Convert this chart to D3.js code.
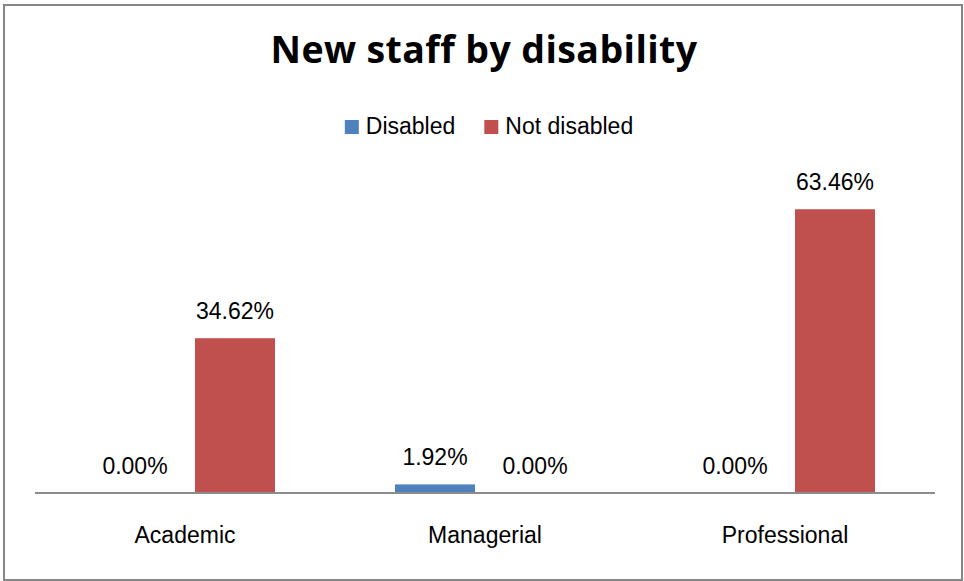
<!DOCTYPE html>
<html>
<head>
<meta charset="utf-8">
<script src="https://cdn.jsdelivr.net/npm/d3@7"></script>
<style>
  html, body { margin: 0; padding: 0; background: #fff; }
  svg { display: block; }
</style>
</head>
<body>
<svg id="chart" width="964" height="581"></svg>
<script>
// Share of new staff by staff group and disability status (%)
const categories = ["Academic", "Managerial", "Professional"];
const seriesNames = ["Disabled", "Not disabled"];
const disabled = [0.00, 1.92, 0.00];
const notDisabled = [34.62, 0.00, 63.46];
const seriesColors = ["#4F81BD", "#C0504D"];
const titleText = "New staff by disability";

const seriesValues = [disabled, notDisabled];
const rows = categories.map((c, i) => ({
  category: c,
  values: seriesNames.map((s, j) => ({ series: s, index: j, value: seriesValues[j][i] }))
}));

const svg = d3.select("#chart");
const font = "'Liberation Sans', Arial, sans-serif";

// chart frame
svg.append("rect")
  .attr("x", 4).attr("y", 5)
  .attr("width", 958).attr("height", 575)
  .attr("fill", "#fff")
  .attr("stroke", "#878787")
  .attr("stroke-width", 2);

// title
svg.append("text")
  .attr("x", 484).attr("y", 63)
  .attr("text-anchor", "middle")
  .attr("font-family", "'Open Sans', sans-serif")
  .attr("font-weight", "bold")
  .attr("font-size", 37.5)
  .attr("letter-spacing", 0.4)
  .attr("fill", "#000")
  .text(titleText);

// scales
const plot = { left: 35, right: 935, top: 180, bottom: 493 };
const x0 = d3.scaleBand()
  .domain(categories)
  .range([plot.left, plot.right])
  .paddingInner(0.4)
  .paddingOuter(0.2);
const x1 = d3.scaleBand()
  .domain(seriesNames)
  .range([0, x0.bandwidth()])
  .paddingInner(0.2);
const y = d3.scaleLinear()
  .domain([0, 70])
  .range([plot.bottom, plot.top]);
const color = d3.scaleOrdinal().domain(seriesNames).range(seriesColors);

// bars
const groups = svg.append("g").selectAll("g")
  .data(rows)
  .join("g")
  .attr("transform", d => `translate(${x0(d.category)},0)`);

groups.selectAll("rect")
  .data(d => d.values)
  .join("rect")
  .attr("x", d => x1(d.series))
  .attr("y", d => y(d.value))
  .attr("width", x1.bandwidth())
  .attr("height", d => y(0) - y(d.value))
  .attr("fill", d => color(d.series));

// value labels
groups.selectAll("text")
  .data(d => d.values)
  .join("text")
  .attr("x", d => x1(d.series) + x1.bandwidth() / 2)
  .attr("y", d => y(d.value) - 19)
  .attr("text-anchor", "middle")
  .attr("font-family", font)
  .attr("font-size", 23)
  .attr("fill", "#000")
  .text(d => d.value.toFixed(2) + "%");

// category axis
const xAxis = svg.append("g")
  .attr("transform", `translate(0,${plot.bottom})`)
  .call(d3.axisBottom(x0).tickSize(0).tickPadding(34));
xAxis.select(".domain")
  .attr("stroke", "#8c8c8c")
  .attr("stroke-width", 2)
  .attr("d", `M${plot.left},0H${plot.right}`);
xAxis.selectAll(".tick text")
  .attr("font-family", font)
  .attr("font-size", 23)
  .attr("fill", "#000")
  .attr("dy", "0.71em");

// legend
const legend = svg.append("g");
const items = legend.selectAll("g")
  .data(seriesNames)
  .join("g");
items.append("rect")
  .attr("width", 14).attr("height", 14)
  .attr("y", 120)
  .attr("fill", d => color(d));
items.append("text")
  .attr("x", 21)
  .attr("y", 134)
  .attr("font-family", font)
  .attr("font-size", 23)
  .attr("fill", "#000")
  .text(d => d);

let offset = 0;
const widths = [];
items.each(function () {
  widths.push(d3.select(this).select("text").node().getComputedTextLength());
});
items.attr("transform", (d, i) => {
  const t = `translate(${offset},0)`;
  offset += 21 + widths[i] + 29;
  return t;
});
const legendWidth = offset - 29;
legend.attr("transform", `translate(${489 - legendWidth / 2},0)`);
</script>
</body>
</html>
